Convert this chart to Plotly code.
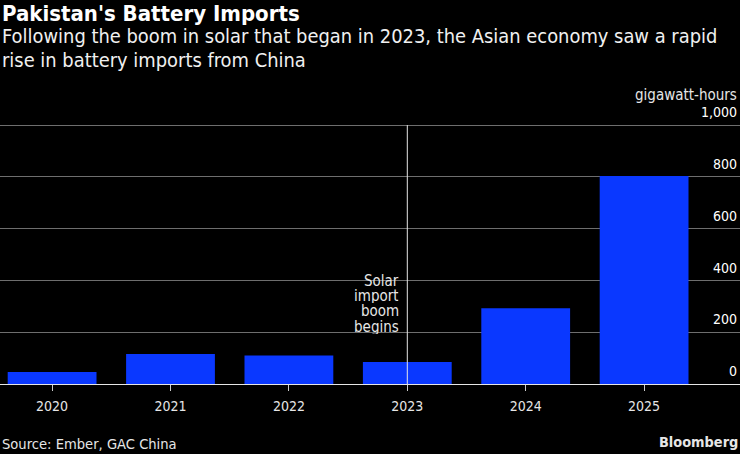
import plotly.graph_objects as go

# Values (gigawatt-hours)
years = ['2020', '2021', '2022', '2023', '2024', '2025']
imports_gwh = [46, 116, 110, 85, 293, 803]
y_ticks = [0, 200, 400, 600, 800, 1000]
y_tick_labels = ['0', '200', '400', '600', '800', '1,000']
boom_year = '2023'
boom_lines = ['Solar', 'import', 'boom', 'begins']

FONT = 'DejaVu Sans Condensed, DejaVu Sans'
W = 740
H = 454
PLOT_BOTTOM = 384
PX_PER_UNIT = 0.259
Y_MAX = 1120  # head room so the 1,000 label stays inside the plot
PLOT_TOP = PLOT_BOTTOM - Y_MAX * PX_PER_UNIT


def paper_y(px):
    # pixel row to paper fraction
    return (PLOT_BOTTOM - px) / (PLOT_BOTTOM - PLOT_TOP)


fig = go.Figure()
fig.add_trace(go.Bar(x=years, y=imports_gwh, width=0.75, marker=dict(color='#0a38ff', line_width=0)))

# Marker line for the start of the solar boom
boom_idx = years.index(boom_year)
fig.add_shape(type='line', x0=boom_idx, x1=boom_idx, y0=0, y1=1000, xref='x', yref='y',
              line=dict(color='#e6e6e6', width=1), layer='above')
# one annotation per line, plotly's <br> spacing is too loose here
for i, line in enumerate(reversed(boom_lines)):
    fig.add_annotation(x=boom_idx, y=0, yref='y', xref='x', xanchor='right', yanchor='middle',
                       xshift=-6, yshift=58 + i * 15.3, showarrow=False, text=line, height=15,
                       font=dict(family=FONT, size=15, color='#e6e6e6'))

# Heading and footer
texts = [
    ("<b>Pakistan's Battery Imports</b>", 0, 13, 'left', 22, '#ffffff'),
    ('Following the boom in solar that began in 2023, the Asian economy saw a rapid', 0, 36, 'left', 19.9, '#f0f0f0'),
    ('rise in battery imports from China', 0, 60, 'left', 19.9, '#f0f0f0'),
    ('gigawatt-hours', 739, 95, 'right', 15, '#e6e6e6'),
    ('Source: Ember, GAC China', 0, 444, 'left', 14.6, '#e6e6e6'),
    ('<b>Bloomberg</b>', 740, 442, 'right', 14.4, '#e6e6e6'),
]
for text, x_px, y_px, anchor, size, color in texts:
    fig.add_annotation(x=x_px / W, y=paper_y(y_px), xref='paper', yref='paper', text=text,
                       xanchor=anchor, yanchor='middle', showarrow=False,
                       font=dict(family=FONT, size=size, color=color))

fig.update_layout(
    width=W,
    height=H,
    autosize=False,
    paper_bgcolor='#000000',
    plot_bgcolor='#000000',
    showlegend=False,
    margin=dict(l=0, r=0, t=PLOT_TOP, b=H - PLOT_BOTTOM, pad=0),
    font=dict(family=FONT, size=14, color='#e6e6e6'),
    xaxis=dict(
        type='category',
        range=[-0.44, 5.81],
        ticks='outside',
        ticklen=6,
        tickwidth=1,
        tickcolor='#cccccc',
        ticklabelstandoff=3,
        showgrid=False,
        showline=False,
        zeroline=False,
    ),
    yaxis=dict(
        side='right',
        range=[0, Y_MAX],
        tickvals=y_ticks,
        ticktext=y_tick_labels,
        ticklabelposition='inside top',
        ticklabelshift=-3,
        ticks='',
        gridcolor='#6e6e6e',
        gridwidth=1,
        zeroline=True,
        zerolinecolor='#e6e6e6',
        zerolinewidth=1,
    ),
)

# the page's default body margin would push the chart off the window
fig.write_html('out.html', config=dict(displayModeBar=False),
               post_script="document.body.style.margin='0';")
